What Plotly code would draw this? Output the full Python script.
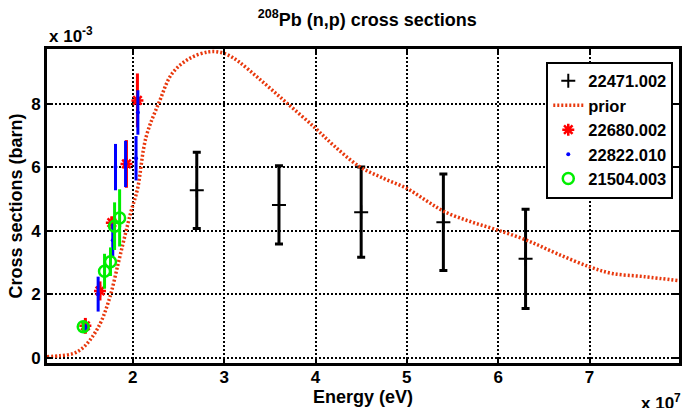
import plotly.graph_objects as go

# ---- data (x in eV, y in barn) ----
E_22471 = [2.70e7, 3.60e7, 4.50e7, 5.40e7, 6.30e7]
S_22471 = [5.27e-3, 4.81e-3, 4.58e-3, 4.26e-3, 3.11e-3]
D_22471 = [1.20e-3, 1.23e-3, 1.42e-3, 1.52e-3, 1.56e-3]

E_prior = [1.06e7, 1.20e7, 1.35e7, 1.45e7, 1.53e7, 1.60e7, 1.66e7, 1.75e7, 1.84e7, 1.91e7,
           1.98e7, 2.05e7, 2.145e7, 2.29e7, 2.43e7, 2.62e7, 2.83e7, 2.95e7, 3.05e7, 3.16e7,
           3.38e7, 3.67e7, 3.99e7, 4.20e7, 4.48e7, 4.75e7, 5.00e7, 5.22e7, 5.41e7, 5.70e7,
           5.99e7, 6.31e7, 6.64e7, 7.00e7, 7.25e7, 7.60e7, 7.98e7]
S_prior = [0.03e-3, 0.06e-3, 0.13e-3, 0.30e-3, 0.55e-3, 0.85e-3, 1.18e-3, 1.92e-3, 2.97e-3, 3.80e-3,
           4.60e-3, 5.30e-3, 6.95e-3, 8.06e-3, 8.95e-3, 9.42e-3, 9.63e-3, 9.62e-3, 9.52e-3, 9.32e-3,
           8.79e-3, 8.06e-3, 7.25e-3, 6.68e-3, 6.02e-3, 5.64e-3, 5.33e-3, 4.93e-3, 4.60e-3, 4.28e-3,
           4.02e-3, 3.70e-3, 3.28e-3, 2.86e-3, 2.65e-3, 2.55e-3, 2.42e-3]

E_22680 = [1.48e7, 1.64e7, 1.77e7, 1.93e7, 2.05e7]
S_22680 = [1.00e-3, 2.10e-3, 4.25e-3, 6.10e-3, 8.10e-3]
D_22680 = [0.25e-3, 0.30e-3, 0.20e-3, 0.75e-3, 0.85e-3]

E_22822 = [1.48e7, 1.62e7, 1.78e7, 1.81e7, 1.92e7, 2.035e7, 2.055e7]
S_22822 = [0.95e-3, 2.00e-3, 3.70e-3, 6.00e-3, 6.10e-3, 6.28e-3, 7.72e-3]
D_22822 = [0.10e-3, 0.55e-3, 0.52e-3, 0.73e-3, 0.73e-3, 0.70e-3, 0.70e-3]

E_21504 = [1.457e7, 1.69e7, 1.755e7, 1.80e7, 1.855e7]
S_21504 = [0.97e-3, 2.72e-3, 3.02e-3, 4.14e-3, 4.40e-3]
D_21504 = [0.15e-3, 0.55e-3, 0.45e-3, 0.75e-3, 0.90e-3]

x_tickvals = [2e7, 3e7, 4e7, 5e7, 6e7, 7e7]
x_ticktext = ["2", "3", "4", "5", "6", "7"]
y_tickvals = [0, 2e-3, 4e-3, 6e-3, 8e-3]
y_ticktext = ["0", "2", "4", "6", "8"]

FONT = "Liberation Sans, Arial, sans-serif"

fig = go.Figure()

fig.add_trace(go.Scatter(
    x=E_22471, y=S_22471, mode="markers", name="22471.002",
    marker=dict(symbol="cross-thin", size=10, color="black", line=dict(color="black", width=2)),
    error_y=dict(type="data", array=D_22471, visible=True, color="black", thickness=3, width=4),
))
fig.add_trace(go.Scatter(
    x=E_prior, y=S_prior, mode="lines", name="prior", line_shape="spline",
    line=dict(color="#e8380d", width=3.5, dash="2px,2px"),
))
fig.add_trace(go.Scatter(
    x=E_22680, y=S_22680, mode="markers", name="22680.002",
    marker=dict(symbol="asterisk-open", size=10, color="red", line=dict(color="red", width=2.5)),
    error_y=dict(type="data", array=D_22680, visible=True, color="red", thickness=3, width=0),
))
fig.add_trace(go.Scatter(
    x=E_22822, y=S_22822, mode="markers", name="22822.010",
    marker=dict(symbol="circle", size=4, color="blue"),
    error_y=dict(type="data", array=D_22822, visible=True, color="blue", thickness=3, width=0),
))
fig.add_trace(go.Scatter(
    x=E_21504, y=S_21504, mode="markers", name="21504.003",
    marker=dict(symbol="circle-open", size=11, color="#00ee00", line=dict(color="#00ee00", width=2.5)),
    error_y=dict(type="data", array=D_21504, visible=True, color="#00ee00", thickness=3, width=0),
))

axis_common = dict(
    showline=True, linecolor="black", linewidth=3, mirror="ticks",
    ticks="inside", ticklen=6, tickwidth=2, tickcolor="black",
    showgrid=True, gridcolor="black", gridwidth=1.5, griddash="2px,2px",
    zeroline=False,
    tickfont=dict(family=FONT, size=17, color="black", weight="bold"),
)

fig.update_layout(
    width=684, height=408,
    margin=dict(l=47, r=2, t=49, b=45),
    paper_bgcolor="white", plot_bgcolor="white",
    font=dict(family=FONT, color="black"),
    title=dict(text="<sup>208</sup>Pb (n,p) cross sections", x=0.537, xanchor="center",
               y=0.952, yanchor="middle",
               font=dict(family=FONT, size=18, color="black", weight="bold")),
    xaxis=dict(range=[1.06e7, 7.98e7], tickvals=x_tickvals, ticktext=x_ticktext,
               ticklabelstandoff=-3,
               title=dict(text="Energy (eV)", standoff=0,
                          font=dict(family=FONT, size=18, color="black", weight="bold")),
               **axis_common),
    yaxis=dict(range=[-0.17e-3, 9.72e-3], tickvals=y_tickvals, ticktext=y_ticktext,
               title=dict(text="Cross sections (barn)", standoff=4,
                          font=dict(family=FONT, size=18, color="black", weight="bold")),
               **axis_common),
    legend=dict(x=0.79, y=0.96, xanchor="left", yanchor="top",
                bgcolor="white", bordercolor="black", borderwidth=2,
                font=dict(family=FONT, size=16.5, color="black", weight="bold"),
                itemwidth=30, tracegroupgap=0),
    showlegend=True,
)

fig.add_annotation(text="x 10<sup>-3</sup>", xref="paper", yref="paper", x=0.0, y=1.0,
                   xanchor="left", yanchor="bottom", showarrow=False, yshift=1,
                   font=dict(family=FONT, size=17, color="black", weight="bold"))
fig.add_annotation(text="x 10<sup>7</sup>", xref="paper", yref="paper", x=1.0, y=0.0,
                   xanchor="right", yanchor="top", showarrow=False, yshift=-26, xshift=4,
                   font=dict(family=FONT, size=17, color="black", weight="bold"))

fig.write_html("out.html")
